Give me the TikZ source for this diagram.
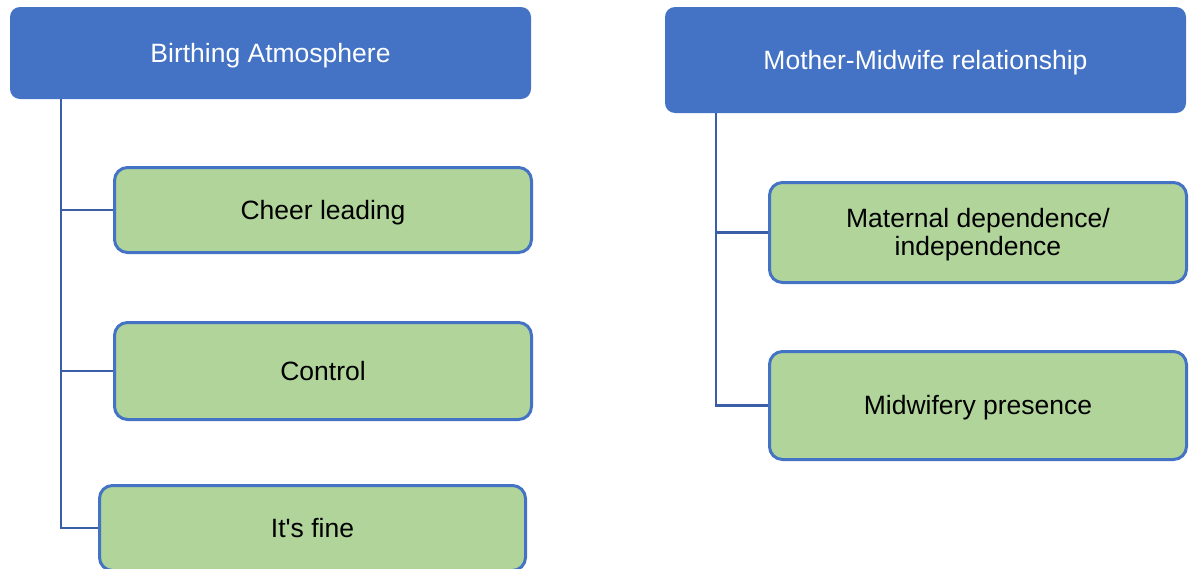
\documentclass[tikz,border=0pt]{standalone}
\usepackage{fontspec}
\setmainfont{Liberation Sans}
\definecolor{headblue}{HTML}{4472C4}
\definecolor{leafgreen}{HTML}{B0D49A}
\definecolor{linkblue}{HTML}{3A5FA8}
\tikzset{
  boxtext/.style={font=\fontsize{26.5}{28}\selectfont, inner sep=0pt, align=center,
    text height=24pt, text depth=5.6pt},
  header/.style={boxtext, fill=headblue, draw=none, rounded corners=10pt, text=white},
  leaf/.style={boxtext, fill=leafgreen, draw=headblue, line width=3pt,
    rounded corners=13pt, text=black},
  twoline/.style={text height=52pt},
  link/.style={draw=linkblue, line width=2.5pt}
}
\begin{document}
\begin{tikzpicture}[x=1pt,y=-1pt]
  \useasboundingbox (0,0) rectangle (1192,568);
  \clip (0,0) rectangle (1192,568);

  % left column
  \node[header, minimum width=521pt, minimum height=92pt] (h1) at (270.5,53) {Birthing Atmosphere};
  \node[leaf, minimum width=417pt, minimum height=85pt] (a) at (323,210) {Cheer leading};
  \node[leaf, minimum width=417pt, minimum height=97pt] (b) at (323,371) {Control};
  \node[leaf, minimum width=426pt, minimum height=85pt] (c) at (312.5,528) {It\textquotesingle s fine};

  % right column
  \node[header, minimum width=521pt, minimum height=106pt] (h2) at (925.5,60) {Mother-Midwife relationship};
  \node[leaf, twoline, minimum width=417pt, minimum height=100pt] (d) at (978,232.5) {Maternal dependence/\\independence};
  \node[leaf, minimum width=417pt, minimum height=108pt] (e) at (978,405.5) {Midwifery presence};

  % connectors
  \draw[link] ([xshift=51pt]h1.south west) |- (a.west);
  \draw[link] ([xshift=51pt]h1.south west) |- (b.west);
  \draw[link] ([xshift=51pt]h1.south west) |- (c.west);
  \draw[link] ([xshift=51pt]h2.south west) |- (d.west);
  \draw[link] ([xshift=51pt]h2.south west) |- (e.west);
\end{tikzpicture}
\end{document}
